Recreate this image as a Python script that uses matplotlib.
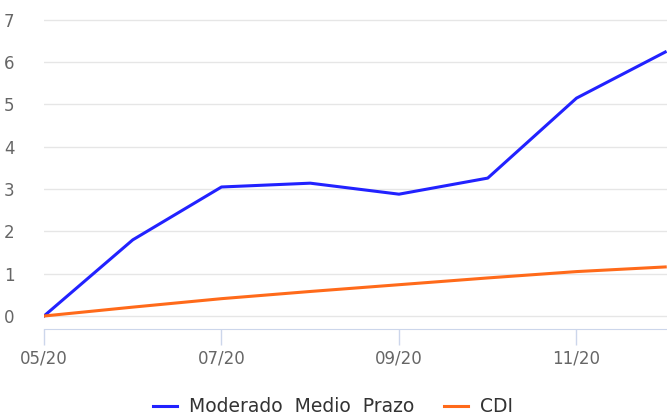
import matplotlib
matplotlib.use('Agg')
import matplotlib.pyplot as plt

months = ['05/20', '06/20', '07/20', '08/20', '09/20', '10/20', '11/20', '12/20']
moderado = [0.0, 1.80, 3.05, 3.14, 2.88, 3.26, 5.15, 6.24]
cdi = [0.0, 0.21, 0.41, 0.58, 0.74, 0.90, 1.05, 1.16]
tick_months = ['05/20', '07/20', '09/20', '11/20']

W, H = 667, 417
fig = plt.figure(figsize=(W / 100, H / 100), dpi=100)
ax = fig.add_axes([44 / W, (H - 329) / H, 1 - 44 / W, 329 / H])

x = list(range(len(months)))
ax.plot(x, moderado, color='#2222ff', lw=2.2, label='Moderado  Medio  Prazo')
ax.plot(x, cdi, color='#ff6a1a', lw=2.2, label='CDI')

ax.set_ylim(-0.307, 7.47)
ax.set_xlim(0, 7.02)
ax.set_yticks(range(0, 8))
ax.set_xticks([months.index(m) for m in tick_months])
ax.set_xticklabels(tick_months)

ax.grid(axis='y', color='#e6e6e6', lw=1)
ax.set_axisbelow(True)
for s in ['top', 'right', 'left']:
    ax.spines[s].set_visible(False)
ax.spines['bottom'].set_color('#ccd6eb')
ax.tick_params(axis='y', length=0, pad=25, labelsize=12, labelcolor='#666666')
ax.tick_params(axis='x', length=11.5, width=1, color='#ccd6eb', pad=3,
               labelsize=12, labelcolor='#666666')
for t in ax.get_yticklabels():
    t.set_horizontalalignment('center')

fig.legend(loc='center', bbox_to_anchor=(0.499, 1 - 407 / H), ncol=2, frameon=False,
           fontsize=13.5, labelcolor='#333333', handlelength=1.3, columnspacing=1.6,
           handletextpad=0.6)

fig.savefig('out.png', dpi=100)
